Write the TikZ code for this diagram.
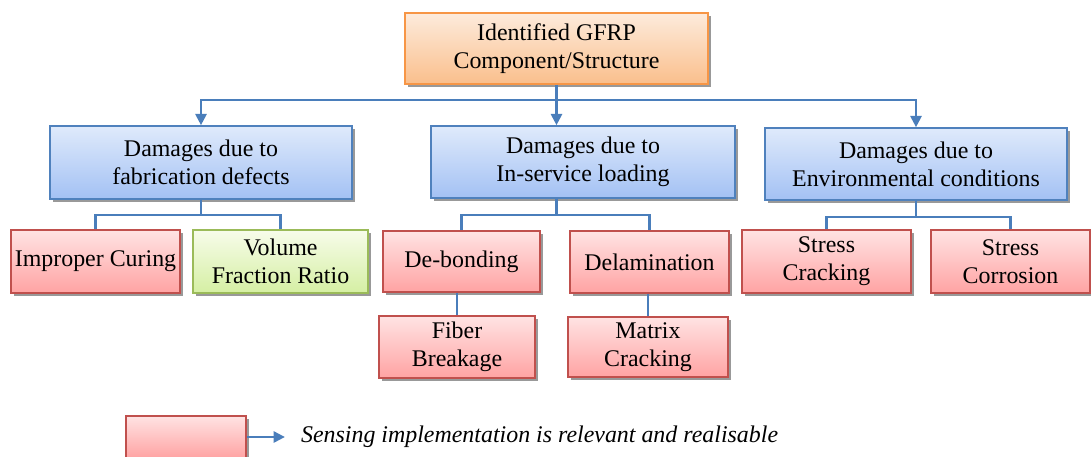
\documentclass[tikz,border=0pt]{standalone}
\usepackage{fontspec}
\setmainfont{Liberation Serif}
\usetikzlibrary{positioning,arrows.meta,shadows}

\definecolor{linkblue}{HTML}{4A7EBB}
\definecolor{orangeline}{HTML}{F79646}
\definecolor{orangetop}{HTML}{FDEBDC}
\definecolor{orangebot}{HTML}{FABF8C}
\definecolor{blueline}{HTML}{4F81BD}
\definecolor{bluetop}{HTML}{DFEAFB}
\definecolor{bluebot}{HTML}{A3C1F4}
\definecolor{redline}{HTML}{C0504D}
\definecolor{redtop}{HTML}{FFE3E3}
\definecolor{redbot}{HTML}{FFA3A3}
\definecolor{greenline}{HTML}{9BBB59}
\definecolor{greentop}{HTML}{F7FCEA}
\definecolor{greenbot}{HTML}{D5EFA3}

\begin{document}
\begin{tikzpicture}[x=0.025cm,y=-0.025cm]
	\tikzset{
		box/.style={draw,line width=1.2pt,inner sep=1pt,align=center,
			font=\fontsize{17}{20}\selectfont,
			drop shadow={shadow xshift=2pt,shadow yshift=-2pt,fill=black!40,opacity=1}},
		sz/.style 2 args={minimum width=#1*0.025cm,minimum height=#2*0.025cm},
		rootbox/.style={box,draw=orangeline,top color=orangetop,bottom color=orangebot},
		groupbox/.style={box,draw=blueline,top color=bluetop,bottom color=bluebot},
		sensebox/.style={box,draw=redline,top color=redtop,bottom color=redbot},
		otherbox/.style={box,draw=greenline,top color=greentop,bottom color=greenbot},
		link/.style={draw=linkblue,line width=1.5pt},
		tip/.style={-{Triangle[length=8pt,width=8pt]}}
	}
	\useasboundingbox (0,0) rectangle (1091,456);

	%% root and the three groups
	\node[rootbox,sz={303}{71}] (top) at (556.5,48.5) {Identified GFRP\\Component/Structure};
	\node[groupbox,sz={302}{73}] (fab) at (201,162.5) {Damages due to\\fabrication defects};
	\node[groupbox,sz={304}{72}] (serv) at (583,162) {Damages due to\\In-service loading};
	\node[groupbox,sz={302}{72}] (env) at (916,164) {Damages due to\\Environmental conditions};

	%% damage types
	\node[sensebox,sz={169}{63}] (cur) at (95.5,261.5) {Improper Curing};
	\node[otherbox,sz={175}{63}] (vol) at (280.5,261.5) {Volume\\Fraction Ratio};
	\node[sensebox,sz={157}{61}] (deb) at (461.5,261.5) {De-bonding};
	\node[sensebox,sz={159}{62}] (dlm) at (649.5,262) {Delamination};
	\node[sensebox,sz={156}{62}] (fib) at (457,347) {Fiber\\Breakage};
	\node[sensebox,sz={160}{60}] (mtx) at (648,347) {Matrix\\Cracking};
	\node[sensebox,sz={169}{63}] (scr) at (826.5,261.5) {Stress\\Cracking};
	\node[sensebox,sz={159}{63}] (sco) at (1010.5,261.5) {Stress\\Corrosion};

	%% tree links
	\path[link,tip] (top.south) -- ++(0,15) -| (fab.north);
	\path[link,tip] (top.south) -- (top.south |- serv.north);
	\path[link,tip] (top.south) -- ++(0,15) -| (env.north);

	\path[link] (fab.south) -- ++(0,15) -| (cur.north);
	\path[link] (fab.south) ++(0,15) -| (vol.north);
	\path[link] (serv.south -| top.south) -- ++(0,16) -| (deb.north);
	\path[link] (serv.south -| top.south) ++(0,16) -| (dlm.north);
	\path[link] (env.south) -- ++(0,16) -| (scr.north);
	\path[link] (env.south) ++(0,16) -| (sco.north);
	\path[link] (fib.north |- deb.south) -- (fib.north);
	\path[link] (mtx.north |- dlm.south) -- (mtx.north);

	%% legend
	\node[sensebox,drop shadow={opacity=0},sz={120}{42}] (leg) at (186,437) {};
	\node[right=1.35cm of leg,inner sep=0pt,font=\fontsize{17}{20}\selectfont\itshape] (note)
		{Sensing implementation is relevant and realisable};
	\path[link,tip,shorten >=0.4cm] (leg.east) -- (note.west);
\end{tikzpicture}
\end{document}
